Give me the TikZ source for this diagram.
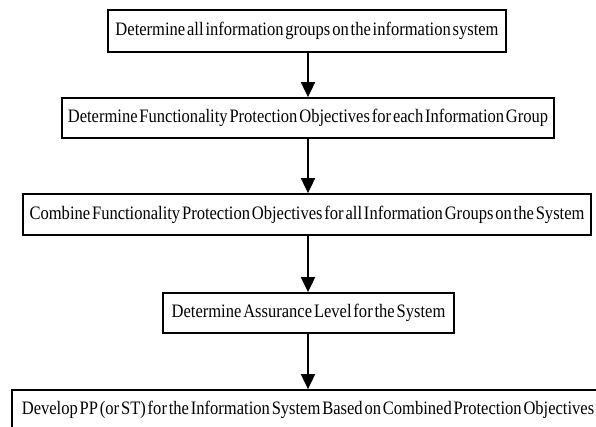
\documentclass[tikz,border=0pt]{standalone}
\usepackage{fontspec}
\setmainfont[FakeStretch=0.87,WordSpace=0.45]{Liberation Serif}
\usetikzlibrary{arrows.meta}
\begin{document}
\begin{tikzpicture}[x=1pt,y=-1pt,
  stepbox/.style={draw=black,line width=1.8pt,fill=white,inner sep=0pt,
    font=\fontsize{19}{21}\selectfont},
  flow/.style={line width=1.8pt,-{Triangle[length=15pt,width=14pt]}}]
\clip (0,0) rectangle (596,426);
\node[stepbox,minimum width=398pt,minimum height=42pt] (b1) at (307,31) {Determine all information groups on the information system};
\node[stepbox,minimum width=492pt,minimum height=40pt] (b2) at (308,118) {Determine Functionality Protection Objectives for each Information Group};
\node[stepbox,minimum width=568pt,minimum height=41pt] (b3) at (307,214.5) {Combine Functionality Protection Objectives for all Information Groups on the System};
\node[stepbox,minimum width=291pt,minimum height=40pt] (b4) at (308.5,313) {Determine Assurance Level for the System};
\node[stepbox,minimum width=592pt,minimum height=40pt] (b5) at (308,410) {Develop PP (or ST) for the Information System Based on Combined Protection Objectives};
\draw[flow] (b1.south -| 308,0) -- (b2.north -| 308,0);
\draw[flow] (b2.south -| 308,0) -- (b3.north -| 308,0);
\draw[flow] (b3.south -| 308,0) -- (b4.north -| 308,0);
\draw[flow] (b4.south -| 308,0) -- (b5.north -| 308,0);
\end{tikzpicture}
\end{document}
